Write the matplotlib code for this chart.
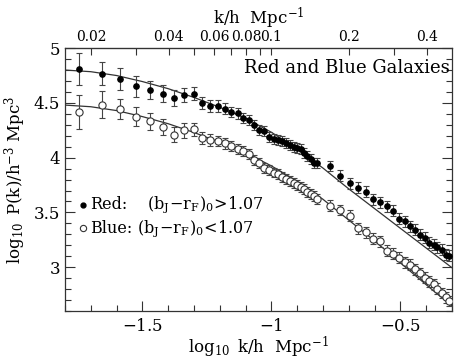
import numpy as np
import matplotlib
matplotlib.use("Agg")
import matplotlib.pyplot as plt

plt.rcParams['font.family'] = ['DejaVu Serif']
plt.rcParams['mathtext.fontset'] = 'dejavuserif'

# log10 k values of bins
logk = [-1.745, -1.658, -1.585, -1.523, -1.469, -1.420, -1.377, -1.337, -1.301, -1.268,
        -1.237, -1.208, -1.180, -1.155, -1.131, -1.108, -1.086, -1.066, -1.046, -1.027,
        -1.009, -0.991, -0.975, -0.959, -0.943, -0.928, -0.914, -0.900, -0.886, -0.873,
        -0.860, -0.848, -0.836, -0.824,
        -0.774, -0.734, -0.697, -0.664, -0.633, -0.606, -0.579, -0.552, -0.527, -0.504,
        -0.482, -0.463, -0.442, -0.423, -0.406, -0.388, -0.371, -0.356, -0.339, -0.324, -0.311]

red_P = [4.813, 4.767, 4.715, 4.652, 4.618, 4.585, 4.543, 4.570, 4.585, 4.500,
         4.476, 4.470, 4.445, 4.418, 4.404, 4.362, 4.343, 4.300, 4.252, 4.240,
         4.188, 4.167, 4.158, 4.152, 4.136, 4.115, 4.097, 4.085, 4.076, 4.045,
         4.015, 3.985, 3.955, 3.949,
         3.925, 3.834, 3.767, 3.727, 3.688, 3.622, 3.591, 3.555, 3.515, 3.440,
         3.418, 3.373, 3.343, 3.295, 3.267, 3.222, 3.204, 3.182, 3.158, 3.115, 3.106]

red_err = [0.145, 0.105, 0.100, 0.095, 0.085, 0.080, 0.075, 0.062, 0.060, 0.058,
           0.055, 0.052, 0.050, 0.048, 0.047, 0.046, 0.045, 0.045, 0.045, 0.045,
           0.045, 0.045, 0.045, 0.045, 0.045, 0.045, 0.045, 0.045, 0.045, 0.045,
           0.045, 0.045, 0.045, 0.045,
           0.048, 0.050, 0.050, 0.050, 0.050, 0.050, 0.050, 0.050, 0.050, 0.050,
           0.050, 0.050, 0.050, 0.050, 0.050, 0.050, 0.050, 0.050, 0.050, 0.050, 0.050]

blue_P = [4.418, 4.485, 4.445, 4.373, 4.331, 4.279, 4.209, 4.249, 4.258, 4.179,
          4.161, 4.152, 4.131, 4.109, 4.082, 4.061, 4.036, 3.980, 3.950, 3.909,
          3.888, 3.864, 3.847, 3.825, 3.806, 3.788, 3.765, 3.747, 3.729, 3.711,
          3.688, 3.665, 3.647, 3.620,
          3.561, 3.522, 3.470, 3.355, 3.318, 3.258, 3.236, 3.152, 3.122, 3.085,
          3.045, 3.022, 2.979, 2.945, 2.904, 2.873, 2.843, 2.804, 2.764, 2.727, 2.691]

blue_err = [0.155, 0.125, 0.090, 0.085, 0.080, 0.075, 0.070, 0.065, 0.060, 0.055,
            0.052, 0.050, 0.048, 0.047, 0.046, 0.045, 0.045, 0.045, 0.045, 0.045,
            0.045, 0.045, 0.045, 0.045, 0.045, 0.045, 0.045, 0.045, 0.045, 0.045,
            0.045, 0.045, 0.045, 0.045,
            0.048, 0.050, 0.050, 0.050, 0.050, 0.050, 0.050, 0.050, 0.050, 0.050,
            0.050, 0.050, 0.050, 0.050, 0.050, 0.050, 0.050, 0.050, 0.050, 0.050, 0.050]

# model curves
model_x = [-1.8, -1.7, -1.6, -1.5, -1.4, -1.3, -1.2, -1.1, -1.0, -0.9, -0.8, -0.7, -0.6, -0.5, -0.4, -0.3]
model_red = [4.80, 4.785, 4.75, 4.695, 4.63, 4.55, 4.46, 4.36, 4.232, 4.08, 3.905, 3.715, 3.535, 3.355, 3.175, 2.995]
model_blue = [4.48, 4.465, 4.43, 4.375, 4.31, 4.23, 4.14, 4.045, 3.925, 3.785, 3.62, 3.43, 3.24, 3.04, 2.84, 2.645]

top_ticks_major = [0.02, 0.04, 0.06, 0.08, 0.1, 0.2, 0.4]
top_labels = ['0.02', '0.04', '0.06', '0.08', '0.1', '0.2', '0.4']
top_ticks_minor = [0.03, 0.05, 0.07, 0.09, 0.3]

fig = plt.figure(figsize=(4.64, 3.62), dpi=100)
ax = fig.add_axes([0.140, 0.141, 0.834, 0.726])

ax.plot(model_x, model_red, color='#333333', lw=0.9, zorder=1)
ax.plot(model_x, model_blue, color='#333333', lw=0.9, zorder=1)

ax.errorbar(logk, red_P, yerr=red_err, fmt='o', ms=3.8, color='black', mfc='black',
            ecolor='#444444', elinewidth=0.8, capsize=2.4, capthick=0.8, zorder=3)
ax.errorbar(logk, blue_P, yerr=blue_err, fmt='o', ms=5.2, color='#333333', mfc='white',
            mew=0.8, ecolor='#444444', elinewidth=0.8, capsize=2.4, capthick=0.8, zorder=3)

ax.set_xlim(-1.8, -0.3)
ax.set_ylim(2.6, 5.0)
ax.set_xticks([-1.5, -1.0, -0.5])
ax.set_xticklabels(['$-1.5$', '$-1$', '$-0.5$'])
ax.set_xticks(np.arange(-1.8, -0.29, 0.1), minor=True)
ax.set_yticks([3, 3.5, 4, 4.5, 5])
ax.set_yticklabels(['3', '3.5', '4', '4.5', '5'])
ax.set_yticks(np.arange(2.6, 5.01, 0.1), minor=True)
ax.tick_params(which='both', direction='in', right=True, top=False, labelsize=12,
               color='#333333', width=0.8)
ax.tick_params(which='major', length=7)
ax.tick_params(which='minor', length=4)
ax.tick_params(axis='x', which='major', pad=5)
for s in ax.spines.values():
    s.set_color('#333333')
    s.set_linewidth(0.9)

ax.set_xlabel(r'$\log_{10}\ \mathrm{k/h\ \ Mpc^{-1}}$', fontsize=12, labelpad=0)
ax.set_ylabel(r'$\log_{10}\ \mathrm{P(k)/h^{-3}\ Mpc^{3}}$', fontsize=12, labelpad=4)

sec = ax.secondary_xaxis('top', functions=(lambda x: 10**x, lambda k: np.log10(k)))
sec.set_xticks(top_ticks_major)
sec.set_xticklabels(top_labels)
sec.set_xticks(top_ticks_minor, minor=True)
sec.tick_params(which='both', direction='in', length=5, labelsize=10, color='#333333', width=0.8, pad=3)
sec.set_xlabel(r'$\mathrm{k/h\ \ Mpc^{-1}}$', fontsize=12, labelpad=4)

ax.text(0.995, 0.925, 'Red and Blue Galaxies', transform=ax.transAxes, ha='right', va='center',
        fontsize=13)

ax.plot([0.047], [0.405], 'o', ms=3.5, color='black', transform=ax.transAxes, clip_on=False)
ax.plot([0.047], [0.315], 'o', ms=4.5, mfc='white', mec='#333333', mew=0.8,
        transform=ax.transAxes, clip_on=False)
ax.text(0.066, 0.405, 'Red:', transform=ax.transAxes, va='center', fontsize=11.5)
ax.text(0.212, 0.405, r'$\mathrm{(b_J\!-\!r_F)_0\!>\!1.07}$', transform=ax.transAxes, va='center', fontsize=11.5)
ax.text(0.066, 0.315, 'Blue:', transform=ax.transAxes, va='center', fontsize=11.5)
ax.text(0.185, 0.315, r'$\mathrm{(b_J\!-\!r_F)_0\!<\!1.07}$', transform=ax.transAxes, va='center', fontsize=11.5)

fig.savefig('out.png', dpi=100)
